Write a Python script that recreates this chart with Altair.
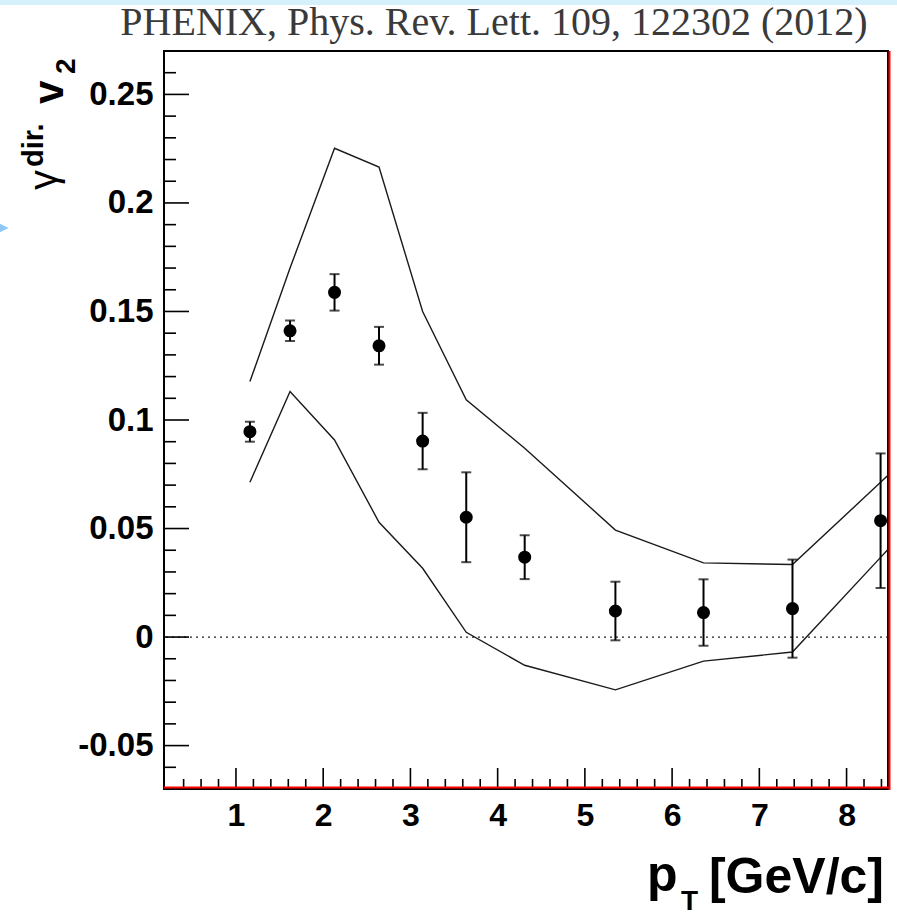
import altair as alt
import pandas as pd

# ---------------- data ----------------
pt = [1.16, 1.62, 2.13, 2.64, 3.14, 3.64, 4.31, 5.35, 6.36, 7.38, 8.39]
v2 = [0.0946, 0.1411, 0.1588, 0.1342, 0.0903, 0.0552, 0.0368, 0.0120, 0.0113, 0.0131, 0.0536]
v2_err = [0.0046, 0.0047, 0.0084, 0.0087, 0.0130, 0.0207, 0.0101, 0.0135, 0.0153, 0.0226, 0.0310]

band_x = [1.16, 1.62, 2.13, 2.64, 3.14, 3.64, 4.31, 5.35, 6.36, 7.38, 8.39, 8.5]
band_upper = [0.1177, 0.170, 0.2252, 0.2165, 0.150, 0.1093, 0.087, 0.0493, 0.0342, 0.0334, 0.0713, 0.0755]
band_lower = [0.0713, 0.1131, 0.0908, 0.0529, 0.0317, 0.0022, -0.0130, -0.0243, -0.0111, -0.0069, 0.0367, 0.0415]

x_major = [1, 2, 3, 4, 5, 6, 7, 8]
x_minor = [round(0.2 * i, 1) for i in range(2, 43) if i % 5 != 0]
y_major = [-0.05, 0.0, 0.05, 0.10, 0.15, 0.20, 0.25]
y_minor = [round(0.01 * i, 2) for i in range(-6, 28) if i % 5 != 0]

title_text = "PHENIX, Phys. Rev. Lett. 109, 122302 (2012)"

# ---------------- layout ----------------
W, H = 724, 738
LEFT, TOP = 164, 51
X_DOM = [0.175, 8.475]
Y_DOM = [-0.07, 0.27]

pts = pd.DataFrame({"pt": pt, "v2": v2,
                    "lo": [a - b for a, b in zip(v2, v2_err)],
                    "hi": [a + b for a, b in zip(v2, v2_err)]})
band = pd.DataFrame({"pt": band_x * 2,
                     "v2": band_upper + band_lower,
                     "edge": ["upper"] * len(band_x) + ["lower"] * len(band_x)})

xs = alt.Scale(domain=X_DOM, nice=False, zero=False)
ys = alt.Scale(domain=Y_DOM, nice=False, zero=False)

base = alt.Chart(pts)

x_enc = alt.X("pt:Q", scale=xs, title=None,
              axis=alt.Axis(values=x_major, format="d", ticks=False, domain=False, grid=False,
                            labelFont="Liberation Sans", labelFontWeight="bold",
                            labelFontSize=32, labelColor="black", labelPadding=11,
                            labelFlush=False))
y_enc = alt.Y("v2:Q", scale=ys, title=None,
              axis=alt.Axis(values=y_major, ticks=False, domain=False, grid=False,
                            labelFont="Liberation Sans", labelFontWeight="bold",
                            labelFontSize=33, labelColor="black", labelPadding=11,
                            labelFlush=False,
                            labelExpr="replace(format(datum.value, '.2~f'), '\u2212', '-')"))

zero_line = alt.Chart(pd.DataFrame({"z": [0.0]})).mark_rule(
    color="#222222", strokeWidth=1.2, strokeDash=[2, 4]).encode(y=alt.Y("z:Q", scale=ys))

curves = alt.Chart(band).mark_line(color="#1a1a1a", strokeWidth=1.4, clip=True).encode(
    x=x_enc, y=y_enc, detail="edge:N")

bars = base.mark_rule(color="black", strokeWidth=2).encode(
    x=alt.X("pt:Q", scale=xs), y=alt.Y("lo:Q", scale=ys), y2="hi:Q")
cap_lo = base.mark_tick(color="black", thickness=2, size=10, orient="horizontal").encode(
    x=alt.X("pt:Q", scale=xs), y=alt.Y("lo:Q", scale=ys))
cap_hi = base.mark_tick(color="black", thickness=2, size=10, orient="horizontal").encode(
    x=alt.X("pt:Q", scale=xs), y=alt.Y("hi:Q", scale=ys))
dots = base.mark_circle(color="black", opacity=1, size=170).encode(
    x=alt.X("pt:Q", scale=xs), y=alt.Y("v2:Q", scale=ys))

# inward ticks (ROOT style)
xmaj = alt.Chart(pd.DataFrame({"t": x_major})).mark_rule(color="black", strokeWidth=1.6).encode(
    x=alt.X("t:Q", scale=xs), y=alt.value(H), y2=alt.value(H - 21))
xmin = alt.Chart(pd.DataFrame({"t": x_minor})).mark_rule(color="black", strokeWidth=1.6).encode(
    x=alt.X("t:Q", scale=xs), y=alt.value(H), y2=alt.value(H - 10))
ymaj = alt.Chart(pd.DataFrame({"t": y_major})).mark_rule(color="black", strokeWidth=1.6).encode(
    y=alt.Y("t:Q", scale=ys), x=alt.value(0), x2=alt.value(25))
ymin = alt.Chart(pd.DataFrame({"t": y_minor})).mark_rule(color="black", strokeWidth=1.6).encode(
    y=alt.Y("t:Q", scale=ys), x=alt.value(0), x2=alt.value(12))

red_right = alt.Chart(pd.DataFrame({"a": [0]})).mark_rule(color="#ff0000", strokeWidth=2).encode(
    x=alt.value(W + 1.5), y=alt.value(0), y2=alt.value(H + 1))
red_bottom = alt.Chart(pd.DataFrame({"a": [0]})).mark_rule(color="#ff0000", strokeWidth=2).encode(
    x=alt.value(0), x2=alt.value(W + 1), y=alt.value(H - 1.5))

# decorations outside the frame
band_top = alt.Chart(pd.DataFrame({"a": [0]})).mark_rect(color="#d6f1fc").encode(
    x=alt.value(-LEFT), x2=alt.value(897 - LEFT), y=alt.value(-TOP), y2=alt.value(-TOP + 5))
arrow = alt.Chart(pd.DataFrame({"a": [0]})).mark_point(
    shape="M -1 -1 L 1 0 L -1 1 Z", filled=True, color="#8fc8f8", opacity=1, size=169).encode(
    x=alt.value(2 - LEFT), y=alt.value(228 - TOP))

def txt(s, x, y, size, weight="normal", font="Liberation Sans", align="left", angle=0, color="black"):
    kw = dict(fontSize=size, fontWeight=weight, font=font, align=align,
              baseline="alphabetic", color=color)
    if angle:
        kw["angle"] = angle
    return alt.Chart(pd.DataFrame({"t": [s]})).mark_text(**kw).encode(
        text="t:N", x=alt.value(x - LEFT), y=alt.value(y - TOP))

title = txt(title_text, 494, 35, 40, font="Liberation Serif", align="center", color="#3a3a3a")

# y title: gamma^{dir.} v_2  (rotated)
yt_g = txt("\u03b3", 57, 190, 40, angle=270)
yt_dir = txt("dir.", 43, 167, 29, weight="bold", angle=270)
yt_v = txt("v", 63, 104, 42, weight="bold", angle=270)
yt_2 = txt("2", 75, 74, 28, weight="bold", angle=270)

# x title: p_T [GeV/c]
xt_p = txt("p", 647, 891, 50, weight="bold")
xt_T = txt("T", 681, 910, 28, weight="bold")
xt_rest = txt("[GeV/c]", 884, 893, 50, weight="bold", align="right")

chart = alt.layer(
    band_top, zero_line, curves, bars, cap_lo, cap_hi, dots,
    xmaj, xmin, ymaj, ymin, red_right, red_bottom,
    arrow, title, yt_g, yt_dir, yt_v, yt_2, xt_p, xt_T, xt_rest,
).properties(
    width=W, height=H,
    autosize=alt.AutoSizeParams(type="none"),
    padding={"left": LEFT, "top": TOP, "right": 897 - LEFT - W, "bottom": 917 - TOP - H},
    background="white",
).configure_view(stroke="black", strokeWidth=2)

chart.save("out.html", embed_options={"renderer": "svg", "actions": False})
